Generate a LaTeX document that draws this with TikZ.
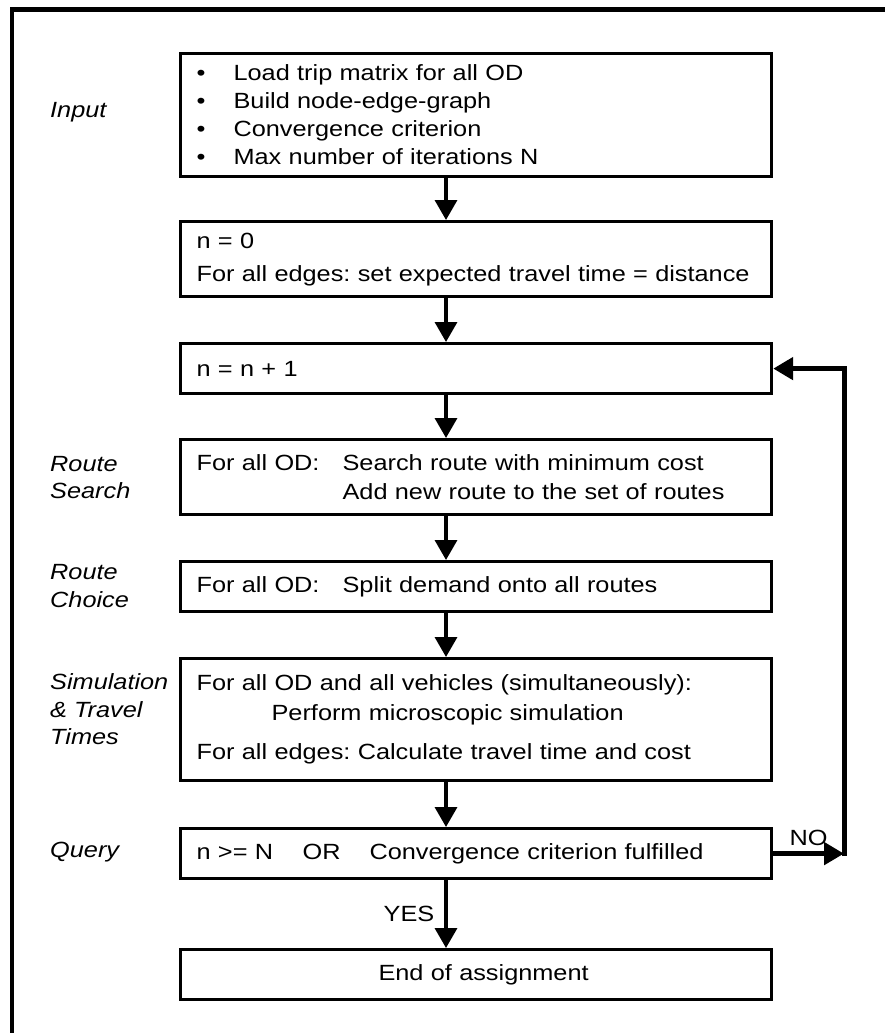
\documentclass[tikz,border=0pt]{standalone}
\usepackage{fontspec}
\setmainfont[FakeStretch=1.15]{Liberation Sans}
\usetikzlibrary{arrows.meta,calc}
\frenchspacing
\begin{document}
\begin{tikzpicture}[x=1pt,y=-1pt,
  box/.style={draw, line width=3.2pt, minimum width=591pt, text width=559pt,
    inner xsep=16pt, inner ysep=0pt, align=left, anchor=north west,
    font=\fontsize{22}{28}\selectfont\frenchspacing},
  lab/.style={anchor=west, align=left, inner sep=0pt,
    font=\fontsize{22}{27.5}\selectfont\itshape},
  arrtip/.style={-{Triangle[length=20pt,width=22pt]}},
  arr/.style={line width=3.5pt, arrtip},
  fbline/.style={line width=5pt, line join=miter},
  albl/.style={font=\fontsize{22}{26}\selectfont}]
\useasboundingbox (0,0) rectangle (885,1033);
% outer frame (cut at right and bottom)
\draw[line width=4.5pt] (12,1045) -- (12,9.5) -- (895,9.5);

\coordinate (ax) at (446,0);
\coordinate (loopx) at (844,0);

\node[box, minimum height=123pt] (b1) at (179,52)
  {\makebox[37pt][l]{\textbullet}Load trip matrix for all OD\\
   \makebox[37pt][l]{\textbullet}Build node-edge-graph\\
   \makebox[37pt][l]{\textbullet}Convergence criterion\\
   \makebox[37pt][l]{\textbullet}Max number of iterations N};
\node[box, minimum height=75pt] (b2) at (179,220)
  {n = 0\\[5pt]
   For all edges: set expected travel time = distance};
\node[box, minimum height=50pt] (b3) at (179,342) {n = n + 1};
\node[box, minimum height=75pt] (b4) at (179,438)
  {\makebox[146pt][l]{For all OD:}Search route with minimum cost\\[1pt]
   \hspace*{146pt}Add new route to the set of routes};
\node[box, minimum height=50pt] (b5) at (179,560)
  {\makebox[146pt][l]{For all OD:}Split demand onto all routes};
\node[box, minimum height=122pt] (b6) at (179,657)
  {For all OD and all vehicles (simultaneously):\\[2pt]
   \hspace*{75pt}Perform microscopic simulation\\[11pt]
   For all edges: Calculate travel time and cost};
\node[box, minimum height=50pt] (b7) at (179,827)
  {\makebox[106pt][l]{n >= N}\makebox[67pt][l]{OR}Convergence criterion fulfilled};
\node[box, minimum height=50pt, align=center] (b8) at (179,948)
  {\hspace*{15pt}End of assignment};

% side labels
\node[lab] (l1) at (50,112) {Input};
\node[lab] (l2) at (50,477.5) {Route\\Search};
\node[lab] (l3) at (50,586) {Route\\Choice};
\node[lab] (l4) at (50,709.5) {Simulation\\\& Travel\\Times};
\node[lab] (l5) at (50,852) {Query};

% main flow
\draw[arr] (b1.south -| ax) -- (b2.north -| ax);
\draw[arr] (b2.south -| ax) -- (b3.north -| ax);
\draw[arr] (b3.south -| ax) -- (b4.north -| ax);
\draw[arr] (b4.south -| ax) -- (b5.north -| ax);
\draw[arr] (b5.south -| ax) -- (b6.north -| ax);
\draw[arr] (b6.south -| ax) -- (b7.north -| ax);
\draw[arr] (b7.south -| ax) -- node[albl, midway, left, inner xsep=10pt] (yes) {YES} (b8.north -| ax);

% feedback loop
\draw[fbline, arrtip] (b7.east) -- node[albl, midway, above, inner sep=0pt, yshift=5pt] (no) {NO} (b7.east -| loopx);
\draw[fbline, arrtip] ($(b7.east -| loopx)+(0,2.5)$) -- (b3.east -| loopx) -- (b3.east);
\end{tikzpicture}
\end{document}
